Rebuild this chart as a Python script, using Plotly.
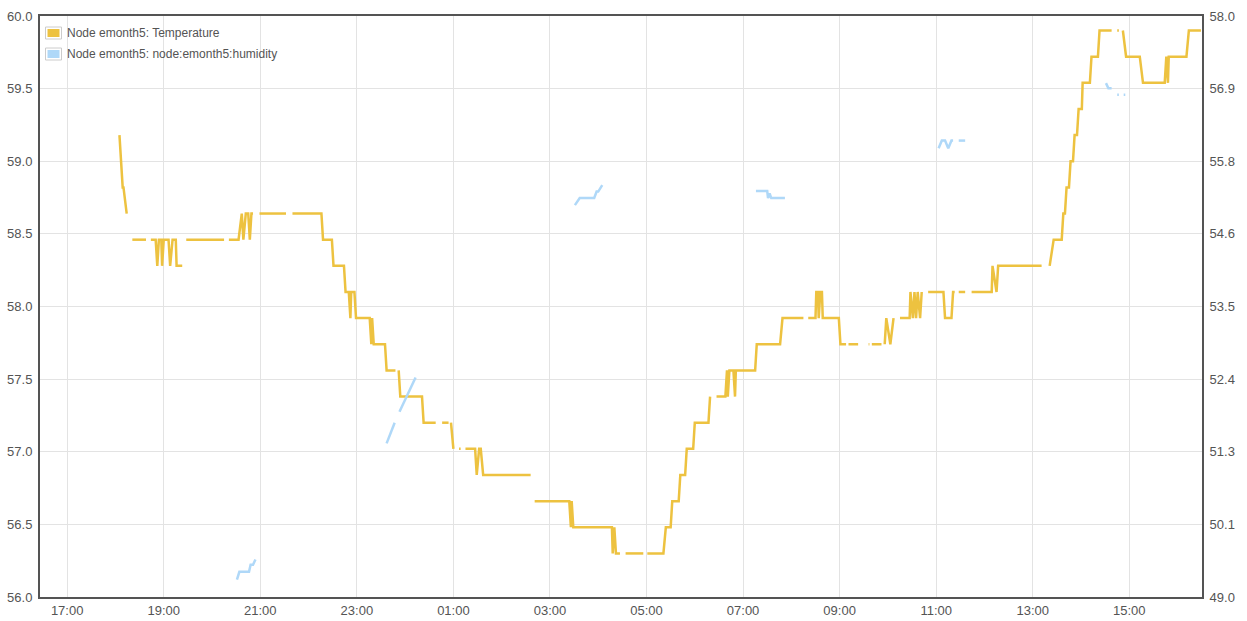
import plotly.graph_objects as go

# ---------------- data ----------------
temp_name = "Node emonth5: Temperature"
hum_name = "Node emonth5: node:emonth5:humidity"

temp_times = [
    "18:05", "18:09", "18:10", "18:14", None,
    "18:21", "18:38", None,
    "18:44", "18:50", "18:52", "18:54", "18:57", "18:58", "19:00", "19:06", "19:08", "19:11", "19:15", "19:16", "19:23", None,
    "19:28", "20:15", None,
    "20:21", "20:33", "20:37", "20:39", "20:42", "20:45", "20:47", "20:49", "20:51", None,
    "20:59", "21:32", None,
    "21:40", "22:16", "22:18", "22:29", "22:31", "22:44", "22:46", "22:50", "22:52", "22:53", "22:57", "22:59",
    "23:16", "23:18", "23:19", "23:21", "23:35", "23:37", "23:48", None,
    "23:52", "23:54", "00:21", "00:23", "00:38", None,
    "00:46", "00:54", None,
    "00:57", "01:00", None,
    "01:07", "01:09", None,
    "01:15", "01:27", "01:29", "01:32", "01:34", "01:37", "02:36", None,
    "02:41", "03:24", "03:26", "03:27", "03:29", "04:17", "04:18", "04:20", "04:22", "04:27", None,
    "04:34", "04:56", None,
    "05:01", "05:21", "05:24", "05:30", "05:32", "05:40", "05:42", "05:48", "05:50", "05:58", "06:00", "06:17", "06:19", None,
    "06:27", "06:38", "06:40", "06:41", "06:43", "06:48", "06:50", "06:51", "07:15", "07:17", "07:46", "07:49", "08:15", None,
    "08:21", "08:30", "08:31", "08:33", "08:34", "08:36", "08:38", "08:39", "08:59", "09:01", "09:08", None,
    "09:11", "09:23", None,
    "09:36", "09:37", None,
    "09:40", "09:52", None,
    "09:56", "09:58", "10:03", "10:07", None,
    "10:15", "10:27", "10:28", "10:31", "10:33", "10:35", "10:37", "10:40", "10:42", None,
    "10:50", "11:09", "11:11", "11:19", "11:21", "11:23", None,
    "11:28", "11:36", None,
    "11:44", "12:09", "12:10", "12:15", "12:17", "13:11", None,
    "13:21", "13:26", "13:36", "13:38", "13:40", "13:42", "13:45", "13:47", "13:50", "13:52", "13:55", "13:57",
    "14:01", "14:02", "14:11", "14:13", "14:21", "14:23", "14:38", None,
    "14:45", "14:47", None,
    "14:52", "14:56", "15:13", "15:17", "15:44", "15:46", "15:48", "15:49", "16:11", "16:14", "16:29",
]
temp_values = [
    59.18, 58.82, 58.82, 58.64, None,
    58.46, 58.46, None,
    58.46, 58.46, 58.28, 58.46, 58.46, 58.28, 58.46, 58.46, 58.28, 58.46, 58.46, 58.28, 58.28, None,
    58.46, 58.46, None,
    58.46, 58.46, 58.64, 58.46, 58.64, 58.64, 58.46, 58.64, 58.64, None,
    58.64, 58.64, None,
    58.64, 58.64, 58.46, 58.46, 58.28, 58.28, 58.10, 58.10, 57.92, 58.10, 58.10, 57.92,
    57.92, 57.74, 57.92, 57.74, 57.74, 57.56, 57.56, None,
    57.56, 57.38, 57.38, 57.20, 57.20, None,
    57.20, 57.20, None,
    57.20, 57.02, None,
    57.02, 57.02, None,
    57.02, 57.02, 56.84, 57.02, 57.02, 56.84, 56.84, None,
    56.66, 56.66, 56.48, 56.66, 56.48, 56.48, 56.30, 56.48, 56.30, 56.30, None,
    56.30, 56.30, None,
    56.30, 56.30, 56.48, 56.48, 56.66, 56.66, 56.84, 56.84, 57.02, 57.02, 57.20, 57.20, 57.38, None,
    57.38, 57.38, 57.56, 57.38, 57.56, 57.56, 57.38, 57.56, 57.56, 57.74, 57.74, 57.92, 57.92, None,
    57.92, 57.92, 58.10, 58.10, 57.92, 58.10, 58.10, 57.92, 57.92, 57.74, 57.74, None,
    57.74, 57.74, None,
    57.74, 57.74, None,
    57.74, 57.74, None,
    57.74, 57.92, 57.74, 57.92, None,
    57.92, 57.92, 58.10, 57.92, 58.10, 57.92, 58.10, 57.92, 58.10, None,
    58.10, 58.10, 57.92, 57.92, 58.10, 58.10, None,
    58.10, 58.10, None,
    58.10, 58.10, 58.28, 58.10, 58.28, 58.28, None,
    58.28, 58.46, 58.46, 58.64, 58.64, 58.82, 58.82, 59.00, 59.00, 59.18, 59.18, 59.36,
    59.36, 59.54, 59.54, 59.72, 59.72, 59.90, 59.90, None,
    59.90, 59.90, None,
    59.90, 59.72, 59.72, 59.54, 59.54, 59.72, 59.54, 59.72, 59.72, 59.90, 59.90,
]

hum_times = [
    "20:31", "20:34", "20:46", "20:48", "20:51", "20:54", None,
    "23:37", "23:47", None,
    "23:53", "00:13", None,
    "03:31", "03:37", "03:55", "03:58", "04:00", "04:05", None,
    "07:16", "07:30", "07:31", "07:33", "07:35", "07:52", None,
    "11:03", "11:07", "11:11", "11:15", "11:19", "11:21", None,
    "11:28", "11:36", None,
    "14:31", "14:34", "14:38", None,
    "14:45", "14:47", None,
    "14:53", "14:55",
]
hum_values = [
    49.27, 49.39, 49.39, 49.50, 49.50, 49.58, None,
    51.38, 51.70, None,
    51.87, 52.40, None,
    55.07, 55.18, 55.18, 55.28, 55.28, 55.38, None,
    55.29, 55.29, 55.18, 55.25, 55.18, 55.18, None,
    55.95, 56.07, 56.07, 55.95, 56.07, 56.07, None,
    56.07, 56.07, None,
    56.96, 56.88, 56.88, None,
    56.78, 56.78, None,
    56.78, 56.78,
]

left_ticks = [56.0, 56.5, 57.0, 57.5, 58.0, 58.5, 59.0, 59.5, 60.0]
right_tick_values = [49.0, 50.125, 51.25, 52.375, 53.5, 54.625, 55.75, 56.875, 58.0]
right_tick_labels = ["49.0", "50.1", "51.3", "52.4", "53.5", "54.6", "55.8", "56.9", "58.0"]

DAY1 = "2016-03-01"
DAY2 = "2016-03-02"
x_range = [DAY1 + " 16:26:15", DAY2 + " 16:30:20"]

TEMP_COLOR = "#edc240"
HUM_COLOR = "#afd8f8"
TEXT_COLOR = "#545454"
GRID_COLOR = "#e3e3e3"


def to_dt(s):
    if s is None:
        return None
    h = int(s.split(":")[0])
    return (DAY1 if h >= 17 else DAY2) + " " + s


fig = go.Figure()
fig.add_trace(go.Scatter(
    x=[to_dt(t) for t in temp_times], y=temp_values, name=temp_name,
    mode="lines", line=dict(color=TEMP_COLOR, width=2.5), connectgaps=False,
    yaxis="y", hoverinfo="x+y",
))
fig.add_trace(go.Scatter(
    x=[to_dt(t) for t in hum_times], y=hum_values, name=hum_name,
    mode="lines", line=dict(color=HUM_COLOR, width=2.5), connectgaps=False,
    yaxis="y2", hoverinfo="x+y",
))

W, H = 1247, 621
ML, MR, MT, MB = 40, 45, 16, 24
PW, PH = W - ML - MR, H - MT - MB


def px(xp):
    return (xp - ML) / PW


def py(yp):
    return 1 - (yp - MT) / PH


# flot-style legend (box swatch + text)
shapes = []
annotations = []
for i, (name, color) in enumerate([(temp_name, TEMP_COLOR), (hum_name, HUM_COLOR)]):
    cy = 33 + 21 * i
    shapes.append(dict(type="rect", xref="paper", yref="paper",
                       x0=px(45.5), x1=px(61.5), y0=py(cy - 6), y1=py(cy + 6),
                       line=dict(color="#cccccc", width=1), fillcolor="white", layer="above"))
    shapes.append(dict(type="rect", xref="paper", yref="paper",
                       x0=px(47.5), x1=px(59.5), y0=py(cy - 4), y1=py(cy + 4),
                       line=dict(width=0), fillcolor=color, layer="above"))
    annotations.append(dict(xref="paper", yref="paper", x=px(64.5), y=py(cy),
                            xanchor="left", yanchor="middle", showarrow=False,
                            text=name, font=dict(size=12, color=TEXT_COLOR)))

fig.update_layout(
    width=W, height=H,
    margin=dict(l=ML, r=MR, t=MT, b=MB, pad=0, autoexpand=False),
    paper_bgcolor="white", plot_bgcolor="white",
    font=dict(family="Liberation Sans, Arial, sans-serif", size=13, color=TEXT_COLOR),
    showlegend=False,
    shapes=shapes, annotations=annotations,
    xaxis=dict(
        type="date", range=x_range, tick0=DAY1 + " 17:00", dtick=7200000,
        tickformat="%H:%M", showgrid=True, gridcolor=GRID_COLOR, gridwidth=1,
        showline=True, mirror=True, linecolor=TEXT_COLOR, linewidth=2,
        ticks="", zeroline=False, automargin=False,
    ),
    yaxis=dict(
        range=[56, 60], tickmode="array", tickvals=left_ticks,
        ticktext=["%.1f" % v for v in left_ticks],
        showgrid=True, gridcolor=GRID_COLOR, gridwidth=1,
        showline=True, mirror=True, linecolor=TEXT_COLOR, linewidth=2,
        ticks="outside", ticklen=3, tickcolor="rgba(0,0,0,0)", zeroline=False,
        automargin=False,
    ),
    yaxis2=dict(
        range=[49, 58], overlaying="y", side="right", tickmode="array",
        tickvals=right_tick_values, ticktext=right_tick_labels,
        showgrid=False, zeroline=False, showline=False,
        ticks="outside", ticklen=4, tickcolor="rgba(0,0,0,0)",
        automargin=False,
    ),
)

fig.write_html(
    "out.html",
    config={"displayModeBar": False},
    post_script="document.body.style.margin='0';document.body.style.padding='0';",
)
